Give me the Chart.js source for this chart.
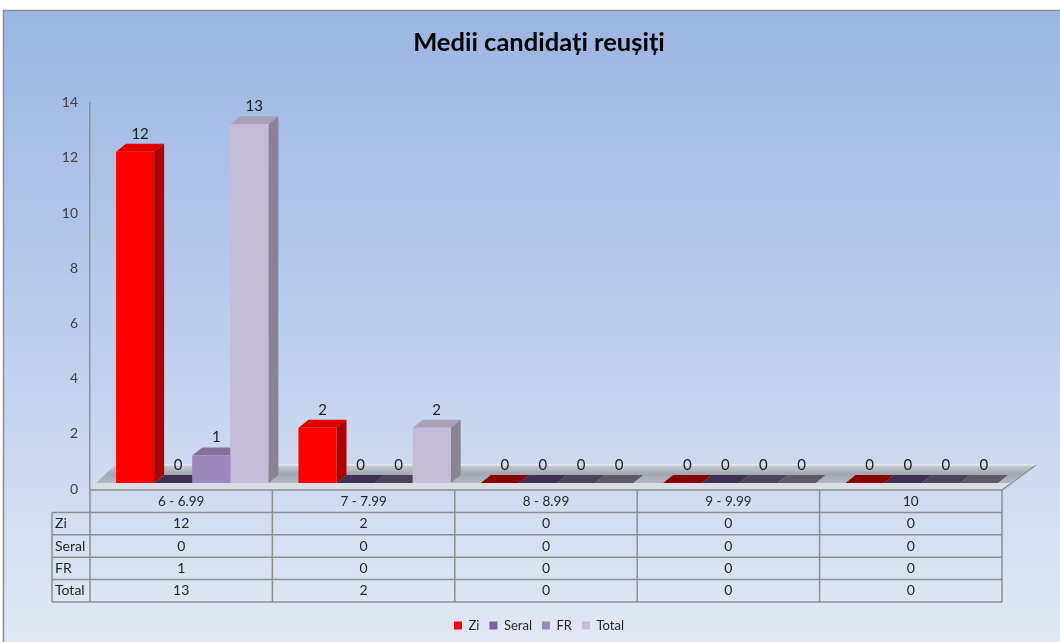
<!DOCTYPE html>
<html>
<head>
<meta charset="utf-8">
<title>Medii candidați reușiți</title>
<script src="https://cdn.jsdelivr.net/npm/chart.js@4.4.1/dist/chart.umd.min.js"></script>
<style>
  html, body { margin: 0; padding: 0; background: #fff; }
</style>
</head>
<body>
<canvas id="chart" width="1060" height="642"></canvas>
<script>
const categories = ['6 - 6.99', '7 - 7.99', '8 - 8.99', '9 - 9.99', '10'];
const seriesNames = ['Zi', 'Seral', 'FR', 'Total'];
const ziValues = [12, 2, 0, 0, 0];
const seralValues = [0, 0, 0, 0, 0];
const frValues = [1, 0, 0, 0, 0];
const totalValues = [13, 2, 0, 0, 0];
const yTickValues = [0, 2, 4, 6, 8, 10, 12, 14];

const FONT = "Lato, 'Open Sans', 'DejaVu Sans', sans-serif";

// front / side / top / flat (zero height) colours per series
const frontColors = ['#ff0000', '#7b5fa3', '#9c89bb', '#c5bdd7'];
const sideColors = ['#ae0000', '#4d3b66', '#6f6184', '#8a8396'];
const topColors = ['#e00000', '#66508a', '#847299', '#a8a1b5'];
const flatColors = ['#8a0000', '#3e3152', '#4d4359', '#5f5a67'];

// 3D look
const DEPTH_X = 10, DEPTH_Y = -8;     // bar depth
const SHIFT_X = 11, SHIFT_Y = -6;     // bars sit a bit behind the front edge of the floor

function poly(ctx, pts, color) {
  ctx.beginPath();
  ctx.moveTo(pts[0][0], pts[0][1]);
  for (let i = 1; i < pts.length; i++) ctx.lineTo(pts[i][0], pts[i][1]);
  ctx.closePath();
  ctx.fillStyle = color;
  ctx.fill();
}

const backgroundPlugin = {
  id: 'background',
  beforeDraw(chart) {
    const { ctx, width, height } = chart;
    ctx.save();
    ctx.fillStyle = '#ffffff';
    ctx.fillRect(0, 0, width, height);
    const g = ctx.createLinearGradient(0, 10, 0, height);
    g.addColorStop(0, '#9bb5e2');
    g.addColorStop(0.5, '#bccdec');
    g.addColorStop(1, '#e1e8f4');
    ctx.fillStyle = g;
    ctx.fillRect(3, 10, width, height);
    ctx.strokeStyle = '#8c8c8c';
    ctx.lineWidth = 1.5;
    ctx.beginPath();
    ctx.moveTo(3.5, height);
    ctx.lineTo(3.5, 10.5);
    ctx.lineTo(width, 10.5);
    ctx.stroke();
    ctx.restore();
  }
};

const bars3dPlugin = {
  id: 'bars3d',
  beforeDatasetsDraw(chart) {
    const { ctx, chartArea, scales } = chart;
    const z = scales.y.getPixelForValue(0);
    const L = chartArea.left, R = chartArea.right;

    // floor slab
    ctx.save();
    const fg = ctx.createLinearGradient(0, z - 24, 0, z - 6);
    fg.addColorStop(0, '#c9ced6');
    fg.addColorStop(0.5, '#a2a8b1');
    fg.addColorStop(1, '#b3b8c1');
    poly(ctx, [[L + 6, z - 6], [R + 7, z - 6], [R + 34, z - 24], [L + 25, z - 24]], fg);
    poly(ctx, [[L, z + 1], [R, z + 1], [R + 7, z - 6], [L + 6, z - 6]], '#dadee4');
    ctx.strokeStyle = '#8f8f8f';
    ctx.lineWidth = 1.5;
    ctx.beginPath();
    ctx.moveTo(L, z + 1);
    ctx.lineTo(R, z + 1);
    ctx.lineTo(R + 34, z - 24);
    ctx.stroke();
    ctx.strokeStyle = 'rgba(255,255,255,0.7)';
    ctx.lineWidth = 1;
    ctx.beginPath();
    ctx.moveTo(L + 25, z - 24);
    ctx.lineTo(R + 34, z - 24);
    ctx.stroke();
    ctx.restore();

    // bars: shift, then draw tops and sides left to right; fronts come from Chart.js
    ctx.save();
    ctx.translate(SHIFT_X, SHIFT_Y);
    const metas = chart.data.datasets.map((d, j) => chart.getDatasetMeta(j));
    for (let i = 0; i < categories.length; i++) {
      metas.forEach((meta, j) => {
        const el = meta.data[i];
        const { x, y, base, width } = el.getProps(['x', 'y', 'base', 'width'], true);
        const l = x - width / 2, r = x + width / 2;
        const v = chart.data.datasets[j].data[i];
        if (v === 0) {
          poly(ctx, [[l, base], [r, base], [r + DEPTH_X, base + DEPTH_Y], [l + DEPTH_X, base + DEPTH_Y]], flatColors[j]);
          return;
        }
        poly(ctx, [[l, y], [r, y], [r + DEPTH_X, y + DEPTH_Y], [l + DEPTH_X, y + DEPTH_Y]], topColors[j]);
        poly(ctx, [[r, y], [r + DEPTH_X, y + DEPTH_Y], [r + DEPTH_X, base + DEPTH_Y], [r, base]], sideColors[j]);
      });
    }
  },
  afterDatasetsDraw(chart) {
    const { ctx } = chart;
    // value labels, still in the shifted frame
    ctx.font = '15px ' + FONT;
    ctx.fillStyle = '#1e1e1e';
    ctx.textAlign = 'center';
    ctx.textBaseline = 'middle';
    chart.data.datasets.forEach((ds, j) => {
      chart.getDatasetMeta(j).data.forEach((el, i) => {
        const { x, y } = el.getProps(['x', 'y'], true);
        ctx.fillText(String(ds.data[i]), x + 5, y - 18);
      });
    });
    ctx.restore();
  }
};

const dataTablePlugin = {
  id: 'dataTable',
  afterDraw(chart) {
    const { ctx, chartArea, scales } = chart;
    const top = scales.y.getPixelForValue(0) + 1;
    const rowH = 22.4;
    const colW = chartArea.width / categories.length;
    const L = chartArea.left, R = chartArea.right;
    const labelLeft = 52;
    const rows = [ziValues, seralValues, frValues, totalValues];
    const bottom = top + rowH * (rows.length + 1);

    ctx.save();
    ctx.strokeStyle = '#8f8f8f';
    ctx.lineWidth = 1.5;
    ctx.beginPath();
    for (let i = 0; i <= categories.length; i++) {
      const x = L + colW * i;
      ctx.moveTo(x, top);
      ctx.lineTo(x, bottom);
    }
    ctx.moveTo(labelLeft, top + rowH);
    ctx.lineTo(labelLeft, bottom);
    for (let r = 1; r <= rows.length + 1; r++) {
      ctx.moveTo(labelLeft, top + rowH * r);
      ctx.lineTo(R, top + rowH * r);
    }
    ctx.stroke();

    ctx.fillStyle = '#262626';
    ctx.textBaseline = 'middle';
    ctx.font = '13.5px ' + FONT;
    ctx.textAlign = 'center';
    categories.forEach((c, i) => {
      ctx.fillText(c, scales.x.getPixelForValue(i), top + rowH / 2);
    });
    ctx.font = '14px ' + FONT;
    rows.forEach((vals, r) => {
      const cy = top + rowH * (r + 1) + rowH / 2;
      ctx.textAlign = 'left';
      ctx.fillText(seriesNames[r], labelLeft + 3, cy);
      ctx.textAlign = 'center';
      vals.forEach((v, i) => ctx.fillText(String(v), scales.x.getPixelForValue(i), cy));
    });
    ctx.restore();
  }
};

const seriesValues = [ziValues, seralValues, frValues, totalValues];

new Chart(document.getElementById('chart'), {
  type: 'bar',
  data: {
    labels: categories,
    datasets: seriesNames.map((name, j) => ({
      label: name,
      data: seriesValues[j],
      backgroundColor: frontColors[j],
      borderWidth: 0,
      categoryPercentage: 0.835,
      barPercentage: 1
    }))
  },
  options: {
    responsive: false,
    animation: false,
    layout: { padding: { left: 18, right: 0, top: 0, bottom: 0 } },
    plugins: {
      title: {
        display: true,
        text: 'Medii candidați reușiți',
        color: '#000',
        font: { family: FONT, size: 25.5, weight: 'bold' },
        padding: { top: 27, bottom: 45 }
      },
      legend: {
        position: 'bottom',
        labels: {
          boxWidth: 8,
          boxHeight: 8,
          padding: 10,
          color: '#262626',
          font: { family: FONT, size: 13 }
        }
      },
      tooltip: { enabled: false }
    },
    scales: {
      x: {
        ticks: { display: false },
        grid: { display: false },
        border: { display: false },
        afterFit(scale) { scale.height = 120; }
      },
      y: {
        min: 0,
        max: 14,
        afterBuildTicks(scale) { scale.ticks = yTickValues.map(v => ({ value: v })); },
        ticks: { padding: 12, color: '#404040', font: { family: FONT, size: 14 } },
        grid: { display: false, drawTicks: false },
        border: { display: true, color: '#8f8f8f', width: 1.5 },
        afterFit(scale) { scale.width = 72; }
      },
      yRight: {
        position: 'right',
        min: 0,
        max: 14,
        ticks: { display: false },
        grid: { display: false, drawTicks: false },
        border: { display: false },
        afterFit(scale) { scale.width = 58; }
      }
    }
  },
  plugins: [backgroundPlugin, bars3dPlugin, dataTablePlugin]
});
</script>
</body>
</html>
